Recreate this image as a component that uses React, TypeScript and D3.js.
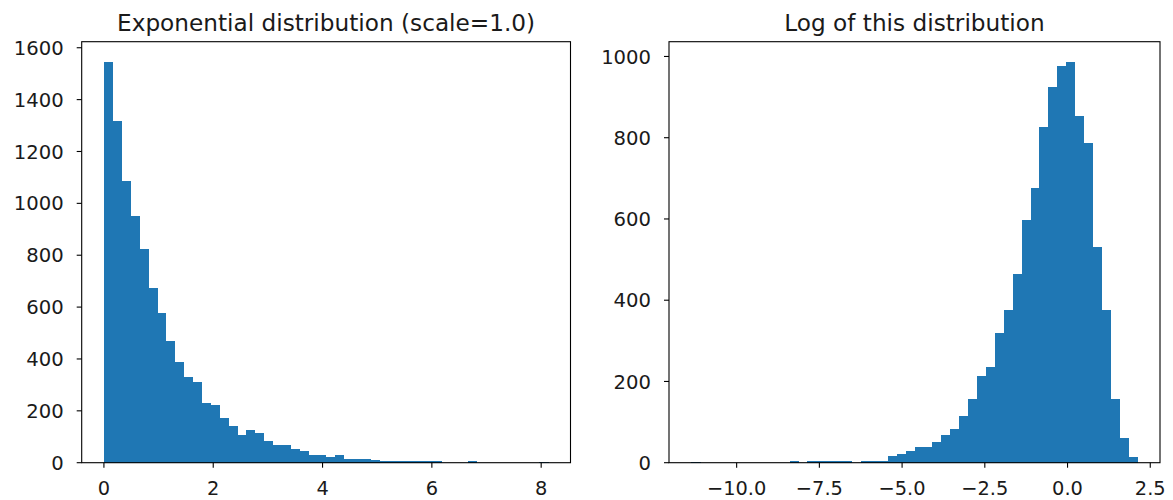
import React from "react";
import * as d3 from "d3";

// ---- Data (histogram counts, 50 bins each) ----
const expTitle = "Exponential distribution (scale=1.0)";
const logTitle = "Log of this distribution";

const expRange = [0, 8.13];
const expCounts = [
  1546, 1317, 1085, 950, 825, 673, 577, 471, 389, 330,
  313, 232, 224, 171, 143, 106, 126, 113, 82, 68,
  68, 53, 45, 31, 31, 22, 31, 14, 14, 14,
  9, 8, 8, 8, 7, 8, 7, 7, 0, 0,
  0, 8, 0, 0, 0, 0, 0, 0, 0, 1,
];
const expXTicks = [0, 2, 4, 6, 8];
const expYTicks = [0, 200, 400, 600, 800, 1000, 1200, 1400, 1600];

const logRange = [-11.37, 2.12];
const logCounts = [
  1, 0, 0, 0, 0, 0, 0, 0, 0, 0,
  0, 5, 0, 5, 5, 5, 5, 5, 0, 5,
  5, 5, 16, 21, 30, 38, 38, 52, 67, 82,
  116, 158, 214, 235, 320, 376, 464, 598, 677, 826,
  925, 977, 987, 854, 787, 532, 376, 157, 62, 15,
];
const logXTicks = [-10, -7.5, -5, -2.5, 0, 2.5];
const logYTicks = [0, 200, 400, 600, 800, 1000];

const BAR = "#1f77b4";
const TEXT = "#1a1a1a";
const FONT = "'DejaVu Sans', sans-serif";

type PanelProps = {
  title: string;
  range: number[];
  counts: number[];
  xTicks: number[];
  yTicks: number[];
  xFmt: (v: number) => string;
  left: number;
  right: number;
};

const TOP = 41.7;
const BOTTOM = 462.7;

function Panel({ title, range, counts, xTicks, yTicks, xFmt, left, right }: PanelProps) {
  const [lo, hi] = range;
  const R = hi - lo;
  const n = counts.length;
  const x = d3.scaleLinear().domain([lo - 0.05 * R, hi + 0.05 * R]).range([left, right]);
  const yMax = (d3.max(counts) as number) * 1.05;
  const y = d3.scaleLinear().domain([0, yMax]).range([BOTTOM, TOP]);
  const w = R / n;
  const bins = counts.map((c, i) => ({ x0: lo + i * w, x1: lo + (i + 1) * w, c }));

  return (
    <g>
      <g shapeRendering="crispEdges">
        {bins.map((b, i) =>
          b.c > 0 ? (
            <rect
              key={i}
              x={x(b.x0)}
              y={y(b.c)}
              width={x(b.x1) - x(b.x0) + 0.3}
              height={BOTTOM - y(b.c)}
              fill={BAR}
            />
          ) : null
        )}
      </g>
      <rect x={left} y={TOP} width={right - left} height={BOTTOM - TOP} fill="none" stroke="#000" strokeWidth={1.1} />
      {yTicks.map((t) => (
        <g key={"y" + t}>
          <line x1={left - 5} x2={left} y1={y(t)} y2={y(t)} stroke="#000" strokeWidth={1.1} />
          <text
            x={left - 18}
            y={y(t)}
            dy="0.36em"
            textAnchor="end"
            fontFamily={FONT}
            fontSize={19.6}
            fill={TEXT}
          >
            {t}
          </text>
        </g>
      ))}
      {xTicks.map((t) => (
        <g key={"x" + t}>
          <line x1={x(t)} x2={x(t)} y1={BOTTOM} y2={BOTTOM + 5} stroke="#000" strokeWidth={1.1} />
          <text
            x={x(t)}
            y={495}
            textAnchor="middle"
            fontFamily={FONT}
            fontSize={19.4}
            fill={TEXT}
          >
            {xFmt(t)}
          </text>
        </g>
      ))}
      <text
        x={(left + right) / 2}
        y={31}
        textAnchor="middle"
        fontFamily={FONT}
        fontSize={23.2}
        fill={TEXT}
      >
        {title}
      </text>
    </g>
  );
}

const fmtInt = (v: number) => d3.format("d")(v);
const fmtOne = (v: number) => (v < 0 ? "\u2212" : "") + d3.format(".1f")(Math.abs(v));

export default function App() {
  return (
    <svg
      width={1173}
      height={500}
      style={{ position: "absolute", left: 0, top: 0, background: "#fff" }}
    >
      <rect width={1173} height={500} fill="#fff" />
      <Panel
        title={expTitle}
        range={expRange}
        counts={expCounts}
        xTicks={expXTicks}
        yTicks={expYTicks}
        xFmt={fmtInt}
        left={81.7}
        right={570.5}
      />
      <Panel
        title={logTitle}
        range={logRange}
        counts={logCounts}
        xTicks={logXTicks}
        yTicks={logYTicks}
        xFmt={fmtOne}
        left={669}
        right={1160}
      />
    </svg>
  );
}
